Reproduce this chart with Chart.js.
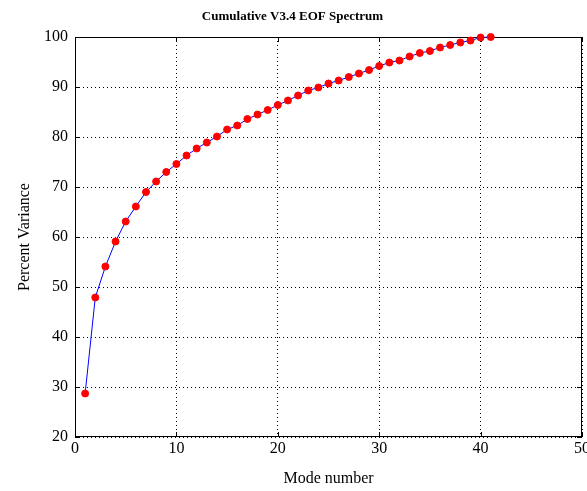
<!DOCTYPE html>
<html>
<head>
    <title>Cumulative V3.4 EOF Spectrum</title>
    <script src="https://cdn.jsdelivr.net/npm/chart.js"></script>
    <style>
        body { margin: 0; background: #fff; }
    </style>
</head>
<body>
    <canvas id="eofChart" width="587" height="491"></canvas>
    <script>
        // mode numbers and cumulative percent variance
        const modes = [1, 2, 3, 4, 5, 6, 7, 8, 9, 10, 11, 12, 13, 14, 15, 16, 17, 18, 19, 20,
                       21, 22, 23, 24, 25, 26, 27, 28, 29, 30, 31, 32, 33, 34, 35, 36, 37, 38, 39, 40, 41];
        const cumVariance = [28.7, 47.9, 54.1, 59.1, 63.1, 66.1, 69.0, 71.1, 73.0, 74.6,
                             76.3, 77.7, 78.9, 80.1, 81.5, 82.3, 83.6, 84.5, 85.4, 86.4,
                             87.3, 88.3, 89.3, 89.9, 90.7, 91.3, 92.0, 92.7, 93.4, 94.2,
                             94.9, 95.3, 96.1, 96.8, 97.2, 97.9, 98.4, 98.9, 99.3, 99.9, 100.0];
        const xTicks = [0, 10, 20, 30, 40, 50];
        const yTicks = [20, 30, 40, 50, 60, 70, 80, 90, 100];

        Chart.defaults.font.family = '"Liberation Serif", "Times New Roman", serif';
        Chart.defaults.color = '#000';

        // box around the axes plus small inward tick marks, matlab style
        const axesBox = {
            id: 'axesBox',
            beforeDatasetsDraw(chart) {
                const {ctx, chartArea: a, scales} = chart;
                ctx.save();
                ctx.strokeStyle = '#000';
                ctx.lineWidth = 1;
                ctx.strokeRect(a.left + 0.5, a.top + 0.5, a.right - a.left - 1, a.bottom - a.top - 1);
                ctx.beginPath();
                xTicks.forEach(v => {
                    const px = Math.round(scales.x.getPixelForValue(v)) + 0.5;
                    ctx.moveTo(px, a.bottom); ctx.lineTo(px, a.bottom - 5);
                    ctx.moveTo(px, a.top); ctx.lineTo(px, a.top + 5);
                });
                yTicks.forEach(v => {
                    const py = Math.round(scales.y.getPixelForValue(v)) + 0.5;
                    ctx.moveTo(a.left, py); ctx.lineTo(a.left + 5, py);
                    ctx.moveTo(a.right, py); ctx.lineTo(a.right - 5, py);
                });
                ctx.stroke();
                ctx.restore();
            }
        };

        const ctx = document.getElementById('eofChart').getContext('2d');
        const eofChart = new Chart(ctx, {
            type: 'line',
            data: {
                datasets: [{
                    data: modes.map((m, i) => ({x: m, y: cumVariance[i]})),
                    borderColor: '#0000ff',
                    borderWidth: 1,
                    backgroundColor: '#ff0000',
                    pointBackgroundColor: '#ff0000',
                    pointBorderColor: '#ff0000',
                    pointRadius: 3.5,
                    pointBorderWidth: 1,
                    tension: 0,
                    clip: false
                }]
            },
            options: {
                responsive: false,
                animation: false,
                layout: { padding: { left: 0, right: 2, top: 0, bottom: 0 } },
                plugins: {
                    legend: { display: false },
                    tooltip: { enabled: false },
                    title: {
                        display: true,
                        text: 'Cumulative V3.4 EOF Spectrum',
                        font: { size: 13, weight: 'bold' },
                        color: '#000',
                        padding: { top: 9, bottom: 12.4 }
                    }
                },
                scales: {
                    x: {
                        type: 'linear',
                        min: 0,
                        max: 50,
                        afterBuildTicks: s => { s.ticks = xTicks.map(v => ({value: v})); },
                        afterFit: s => { s.height = 54; s.paddingLeft = 0; s.paddingRight = 0; },
                        ticks: { font: { size: 16 }, padding: 2, maxRotation: 0 },
                        grid: { color: '#000', drawTicks: false, lineWidth: 1 },
                        border: { display: false, dash: [1, 3] },
                        title: {
                            display: true,
                            text: 'Mode number',
                            font: { size: 16 },
                            padding: { top: 0, bottom: 2.4 }
                        }
                    },
                    y: {
                        min: 20,
                        max: 100,
                        afterBuildTicks: s => { s.ticks = yTicks.map(v => ({value: v})); },
                        afterFit: s => { s.width = 75; s.paddingTop = 0; s.paddingBottom = 0; },
                        ticks: { font: { size: 16 }, padding: 7 },
                        grid: { color: '#000', drawTicks: false, lineWidth: 1 },
                        border: { display: false, dash: [1, 3] },
                        title: {
                            display: true,
                            text: 'Percent Variance',
                            font: { size: 16 },
                            padding: { top: 15, bottom: 0 }
                        }
                    }
                }
            },
            plugins: [axesBox]
        });
    </script>
</body>
</html>
